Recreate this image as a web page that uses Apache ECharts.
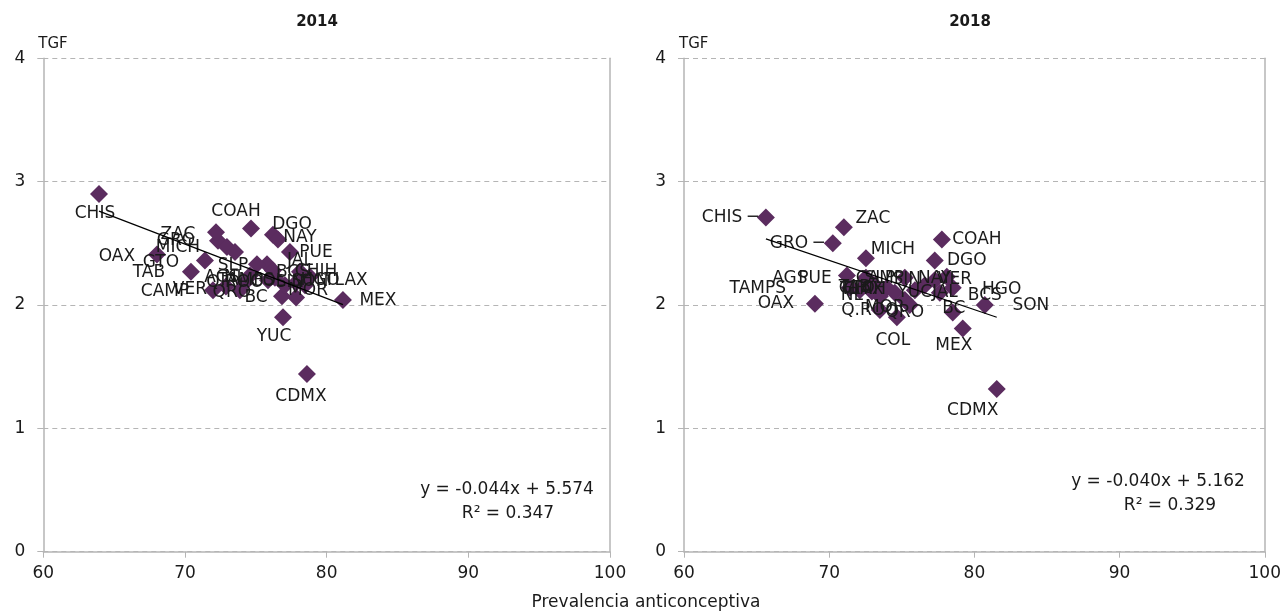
<!DOCTYPE html>
<html><head><meta charset="utf-8">
<script src="https://cdn.jsdelivr.net/npm/echarts@6/dist/echarts.min.js"></script>
<style>html,body{margin:0;padding:0;background:#fff}#c{width:1284px;height:612px}</style>
</head><body><div id="c"></div>
<script>
// ---- data ----
const states = ['AGS','BC','BCS','CAMP','COAH','COL','CHIS','CHIH','CDMX','DGO','GTO','GRO','HGO','JAL','MEX','MICH','MOR','NAY','NL','OAX','PUE','QRO','Q.ROO','SLP','SIN','SON','TAB','TAMPS','TLAX','VER','YUC','ZAC'];
const prev2014 = [74.59,76.85,75.79,71.98,74.66,76.35,63.93,78.12,78.61,76.21,71.41,72.33,77.84,76.21,81.15,72.96,77.84,76.56,73.53,68.02,77.41,74.23,73.88,75.08,77.06,78.47,70.42,75.86,78.82,72.89,76.92,72.19];
const tgf2014  = [2.24,2.07,2.33,2.12,2.62,2.22,2.90,2.27,1.44,2.57,2.36,2.52,2.18,2.28,2.04,2.47,2.06,2.53,2.43,2.41,2.43,2.18,2.12,2.33,2.16,2.16,2.27,2.20,2.23,2.15,1.90,2.59];
const prev2018 = [71.22,78.51,77.62,72.80,77.76,74.66,65.64,73.15,81.54,77.27,73.97,70.25,78.51,75.90,79.20,72.53,75.21,78.10,73.49,69.02,72.53,75.55,73.49,75.21,77.27,80.72,72.11,71.42,72.94,76.59,74.52,71.01];
const tgf2018  = [2.24,1.94,2.10,2.18,2.53,1.90,2.71,2.16,1.32,2.36,2.14,2.50,2.14,2.12,1.81,2.38,2.04,2.23,2.07,2.01,2.22,2.00,1.96,2.22,2.20,2.00,2.12,2.14,2.11,2.16,2.10,2.63];
const years = ['2014','2018'];
const xTicks = [60,70,80,90,100];
const yTicks = [0,1,2,3,4];
const trend2014 = {slope:-0.044, intercept:5.574, r2:'0.347'};
const trend2018 = {slope:-0.040, intercept:5.162, r2:'0.329'};
const yName = 'TGF';
const xName = 'Prevalencia anticonceptiva';

// ---- label placement (layout only) ----
const lab2014 = {AGS:[-28,2],BC:[-26,1],BCS:[26,8],CAMP:[-48,1],COAH:[-15,-17],COL:[-7,4],CHIS:[-4,20],CHIH:[16,0],CDMX:[-6,23],DGO:[19,-10],GTO:[-44,2],GRO:[-42,0],HGO:[24,-2],JAL:[27,-10],MEX:[35,1],MICH:[-49,1],MOR:[12,-7],NAY:[22,-2],NL:[0,26],OAX:[-40,2],PUE:[26,1],QRO:[-13,10],'Q.ROO':[-5,-8],SLP:[-24,1],SIN:[5,-3],SON:[5,-4],TAB:[-42,1],TAMPS:[-22,0],TLAX:[36,4],VER:[-36,3],YUC:[-9,19],ZAC:[-38,2]};
const lab2018 = {AGS:[-57,3],BC:[1,-4],BCS:[45,3],CAMP:[10,-4],COAH:[35,0],COL:[-4,23],CHIS:[-36,0],CHIH:[-10,4],CDMX:[-24,22],DGO:[32,0],GTO:[-30,1],GRO:[-36,0],HGO:[49,2],JAL:[30,2],MEX:[-9,17],MICH:[27,-9],MOR:[-20,8],NAY:[-12,2],NL:[-28,-1],OAX:[-39,0],PUE:[-51,1],QRO:[-5,8],'Q.ROO':[-10,1],SLP:[-25,1],SIN:[-28,-1],SON:[46,1],TAB:[-5,-3],TAMPS:[-92,1],TLAX:[-10,-2],VER:[30,-6],YUC:[20,0],ZAC:[29,-9]};
const leader2018 = ['CHIS','GRO'];

const FONT = 'DejaVu Sans';
const TXT = '#1a1a1a';
const PURPLE = '#5b2c5f';
const AX = '#b5b5b5';

function pts(xs, ys, lab, leaders) {
  return states.map((s,i)=>({
    name: s, value:[xs[i], ys[i]],
    label:{offset: lab[s], formatter: (leaders && leaders.includes(s)) ? s + ' \u2500' : s}
  }));
}
function trend(xs, t) {
  const a = Math.min(...xs), b = Math.max(...xs);
  return [[a, t.slope*a + t.intercept],[b, t.slope*b + t.intercept]];
}
function xAxis(g){
  return {gridIndex:g, type:'value', min:xTicks[0], max:xTicks[xTicks.length-1], interval:xTicks[1]-xTicks[0],
    axisLine:{show:true, lineStyle:{color:AX, width:1.5}}, axisTick:{show:true, inside:false, length:6, lineStyle:{color:AX}},
    splitLine:{show:false}, axisLabel:{color:TXT, fontSize:17, fontFamily:FONT, margin:13}};
}
function yAxisL(g){
  return {gridIndex:g, type:'value', min:yTicks[0], max:yTicks[yTicks.length-1], interval:yTicks[1]-yTicks[0],
    name:yName, nameLocation:'end', nameGap:7, nameTextStyle:{color:TXT, fontSize:15, fontFamily:FONT, align:'left', padding:[0,0,0,-5]},
    axisLine:{show:true, lineStyle:{color:AX, width:1.5}}, axisTick:{show:true, length:6, lineStyle:{color:AX}},
    splitLine:{show:true, lineStyle:{color:AX, type:[5,4], width:1}}, axisLabel:{color:TXT, fontSize:17, fontFamily:FONT, margin:18}};
}
function yAxisR(g){
  return {gridIndex:g, type:'value', position:'right', min:yTicks[0], max:yTicks[yTicks.length-1],
    axisLine:{show:true, onZero:false, lineStyle:{color:AX, width:1.5}}, axisTick:{show:false}, axisLabel:{show:false}, splitLine:{show:false}};
}
const labelBase = {show:true, position:'inside', color:TXT, opacity:1, fontSize:17, fontFamily:FONT, textBorderWidth:0};

const chart = echarts.init(document.getElementById('c'), null, {renderer:'canvas'});
chart.setOption({
  animation:false,
  backgroundColor:'#fff',
  grid:[
    {left:43.3, top:58.3, width:566.7, height:493.4},
    {left:684, top:58.3, width:581, height:493.4}
  ],
  xAxis:[xAxis(0), xAxis(1)],
  yAxis:[yAxisL(0), yAxisR(0), yAxisL(1), yAxisR(1)],
  series:[
    {type:'scatter', xAxisIndex:0, yAxisIndex:0, symbol:'diamond', symbolSize:18, itemStyle:{color:PURPLE, opacity:1},
     label:labelBase, emphasis:{disabled:true}, data:pts(prev2014, tgf2014, lab2014), z:2},
    {type:'line', xAxisIndex:0, yAxisIndex:0, data:trend(prev2014, trend2014), symbol:'none', lineStyle:{color:'#000', width:1.2}, z:5, silent:true},
    {type:'scatter', xAxisIndex:1, yAxisIndex:2, symbol:'diamond', symbolSize:18, itemStyle:{color:PURPLE, opacity:1},
     label:labelBase, emphasis:{disabled:true}, data:pts(prev2018, tgf2018, lab2018, leader2018), z:2},
    {type:'line', xAxisIndex:1, yAxisIndex:2, data:trend(prev2018, trend2018), symbol:'none', lineStyle:{color:'#000', width:1.2}, z:5, silent:true}
  ],
  graphic:[
    {type:'text', x:317, y:22, style:{text:years[0], textAlign:'center', textVerticalAlign:'middle', font:'bold 15px "DejaVu Sans"', fill:TXT}},
    {type:'text', x:970, y:22, style:{text:years[1], textAlign:'center', textVerticalAlign:'middle', font:'bold 15px "DejaVu Sans"', fill:TXT}},
    {type:'text', x:507, y:490, style:{text:'y = ' + trend2014.slope.toFixed(3) + 'x + ' + trend2014.intercept.toFixed(3), textAlign:'center', textVerticalAlign:'middle', font:'17px "DejaVu Sans"', fill:TXT}},
    {type:'text', x:508, y:514, style:{text:'R\u00b2 = ' + trend2014.r2, textAlign:'center', textVerticalAlign:'middle', font:'17px "DejaVu Sans"', fill:TXT}},
    {type:'text', x:1158, y:482, style:{text:'y = ' + trend2018.slope.toFixed(3) + 'x + ' + trend2018.intercept.toFixed(3), textAlign:'center', textVerticalAlign:'middle', font:'17px "DejaVu Sans"', fill:TXT}},
    {type:'text', x:1170, y:506, style:{text:'R\u00b2 = ' + trend2018.r2, textAlign:'center', textVerticalAlign:'middle', font:'17px "DejaVu Sans"', fill:TXT}},
    {type:'text', x:646, y:603, style:{text:xName, textAlign:'center', textVerticalAlign:'middle', font:'17px "DejaVu Sans"', fill:TXT}}
  ]
});
</script></body></html>
